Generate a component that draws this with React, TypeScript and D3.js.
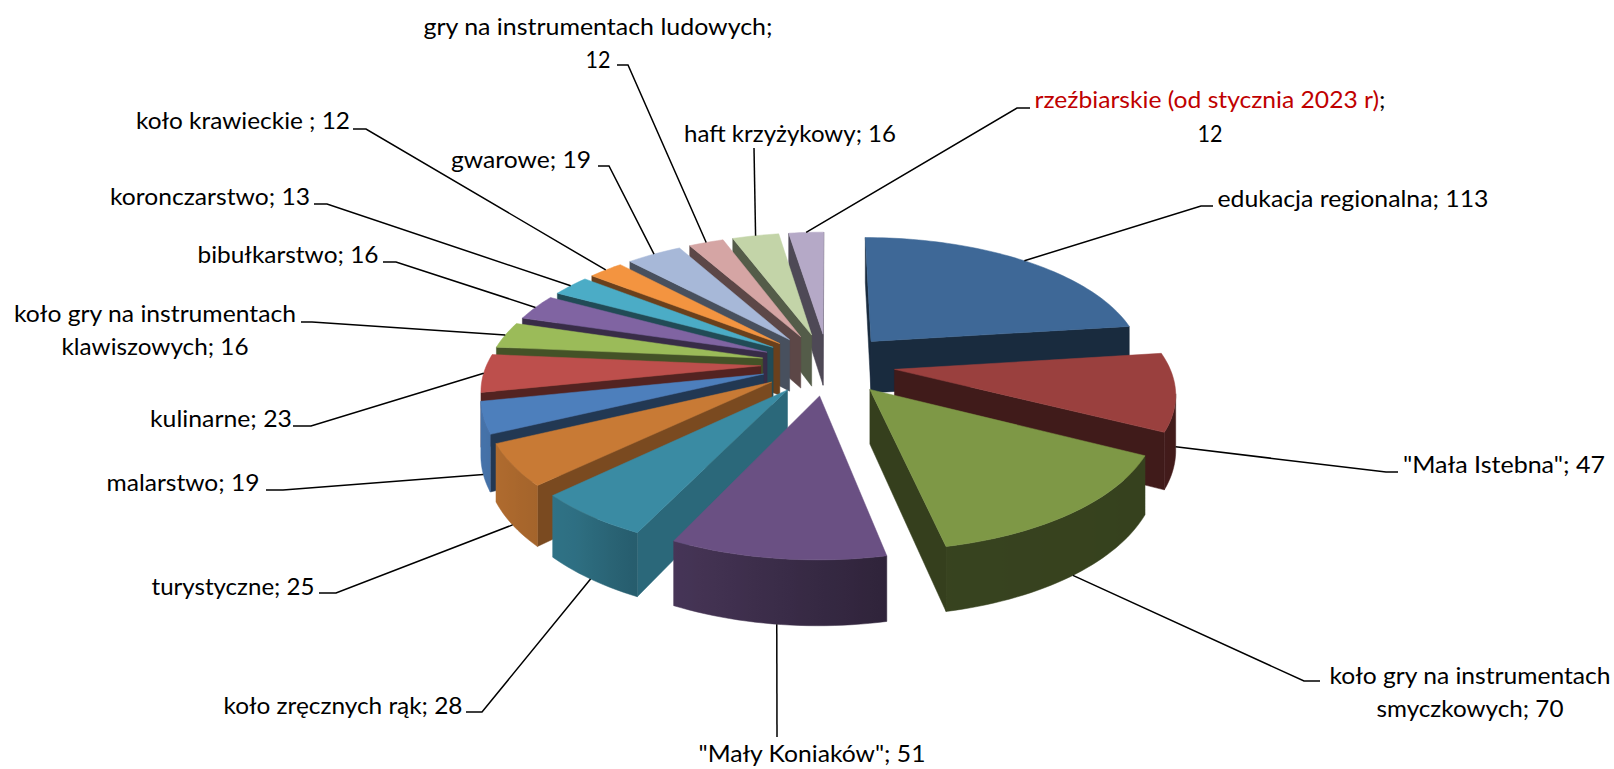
import React from "react";
import * as d3 from "d3";

const categories = [
  "edukacja regionalna", "\"Mała Istebna\"", "koło gry na instrumentach smyczkowych", "\"Mały Koniaków\"",
  "koło zręcznych rąk", "turystyczne", "malarstwo", "kulinarne", "koło gry na instrumentach klawiszowych",
  "bibułkarstwo", "koronczarstwo", "koło krawieckie ", "gwarowe", "gry na instrumentach ludowych",
  "haft krzyżykowy", "rzeźbiarskie (od stycznia 2023 r)",
];
const values = [113, 47, 70, 51, 28, 25, 19, 23, 16, 16, 13, 12, 19, 12, 16, 12];
const colors = [
  "#3E6897", "#9A403E", "#7E9846", "#6A5083", "#3A8BA3", "#C87A35", "#4D7FBC", "#BD4F4C",
  "#9BBB59", "#8064A2", "#4BACC6", "#F39440", "#A7B8D8", "#D5A5A4", "#C3D4A8", "#B5A9C7",
];

// label layout: text lines split point, text centre, line centres, leader start and elbow
type L = { cx: number; ys: number[]; w: number[]; brk?: number; a: [number, number]; b: [number, number] };
const layout: L[] = [
  { cx: 1353, ys: [199], w: [271], a: [1213, 206], b: [1201, 206] },
  { cx: 1504, ys: [465], w: [202], a: [1398, 472], b: [1386, 472] },
  { cx: 1470, ys: [676, 709], w: [281, 187], brk: 25, a: [1320, 681], b: [1304, 681] },
  { cx: 812, ys: [754], w: [227], a: [777, 737], b: [777, 737] },
  { cx: 343, ys: [706], w: [239], a: [466, 712], b: [482, 712] },
  { cx: 233, ys: [587], w: [163], a: [319, 593], b: [336, 593] },
  { cx: 183, ys: [483], w: [153], a: [266, 490], b: [283, 490] },
  { cx: 221, ys: [419], w: [142], a: [293, 426], b: [311, 426] },
  { cx: 155, ys: [314, 347], w: [282, 187], brk: 25, a: [301, 322], b: [312, 322] },
  { cx: 288, ys: [255], w: [181], a: [383, 262], b: [396, 262] },
  { cx: 210, ys: [197], w: [200], a: [314, 204], b: [327, 204] },
  { cx: 243, ys: [121], w: [214], a: [353, 129], b: [366, 129] },
  { cx: 521, ys: [160], w: [140], a: [598, 166], b: [609, 166] },
  { cx: 598, ys: [27, 60], w: [349, 25], brk: 30, a: [617, 65], b: [628, 65] },
  { cx: 790, ys: [134], w: [212], a: [754, 148], b: [754, 148] },
  { cx: 1210, ys: [100, 134], w: [351, 25], brk: 34, a: [1030, 108], b: [1017, 108] },
];

// projection parameters
const CX = 828, VY = -441, C = 805, F = 1740, H = 53, R = 274, E = 67;
const project = (X: number, Y: number, z = 0): [number, number] => {
  const s = F / (F - Y);
  return [CX + X * s, VY + (C + z) * s];
};
const polar = (r: number, t: number): [number, number] => [r * Math.sin(t), -r * Math.cos(t)];

const deg = (d: number) => (d * Math.PI) / 180;
const arcShade = d3.scaleLinear().domain([deg(0), deg(168), deg(205), deg(220), deg(250), deg(360)]).range([0.4, 0.44, 0.66, 0.8, 0.9, 0.9]).clamp(true);
const wallShade = d3.scaleLinear().domain([deg(0), deg(170), deg(205), deg(226), deg(244), deg(360)]).range([0.41, 0.42, 0.75, 0.61, 0.44, 0.43]).clamp(true);
const tint = (hex: string, f: number) => {
  const c = d3.rgb(hex);
  return d3.rgb(c.r * f, c.g * f, c.b * f).formatHex();
};
const line = d3.line();

const pie = d3.pie<number>().sort(null).value((d) => d);
const arcs = pie(values);

type Poly = { d: string; fill: string };
type Grad = { id: string; x1: number; x2: number; stops: { offset: number; color: string }[] };

function buildSlice(i: number) {
  const { startAngle: t0, endAngle: t1 } = arcs[i];
  const mid = (t0 + t1) / 2;
  const [ox, oy] = polar(E, mid);
  const step = deg(1.5);
  const n = Math.max(2, Math.ceil((t1 - t0) / step));
  const angs = d3.range(n + 1).map((k) => t0 + ((t1 - t0) * k) / n);
  const ring = angs.map((t): [number, number] => {
    const [x, y] = polar(R, t);
    return [ox + x, oy + y];
  });
  const apex: [number, number] = [ox, oy];
  const topPts = [apex, ...ring].map(([x, y]) => project(x, y));
  const polys: Poly[] = [];
  const wall = (a: [number, number], b: [number, number], fill: string) => {
    const a0 = project(a[0], a[1]), b0 = project(b[0], b[1]);
    if (b0[0] - a0[0] >= 0) return;
    const a1 = project(a[0], a[1], H), b1 = project(b[0], b[1], H);
    polys.push({ d: line([a0, b0, b1, a1])! + "Z", fill });
  };
  wall(apex, ring[0], tint(colors[i], wallShade(t0)));
  wall(ring[n], apex, tint(colors[i], wallShade(t0)));

  // outer curved wall: the part of the rim that moves leftwards on screen faces the viewer
  const vis = d3.range(n + 1).filter((k) => {
    const here = project(ring[k][0], ring[k][1])[0];
    const next = k < n ? project(ring[k + 1][0], ring[k + 1][1])[0] : Infinity;
    const prev = k > 0 ? project(ring[k - 1][0], ring[k - 1][1])[0] : -Infinity;
    return next < here || prev > here;
  });
  let grad: Grad | null = null;
  if (vis.length > 1) {
    const top = vis.map((k) => project(ring[k][0], ring[k][1]));
    const bot = vis.map((k) => project(ring[k][0], ring[k][1], H));
    const x1 = top[0][0], x2 = top[top.length - 1][0];
    grad = {
      id: `rim${i}`,
      x1,
      x2,
      stops: vis.map((k, j) => ({
        offset: (top[j][0] - x1) / (x2 - x1),
        color: tint(colors[i], arcShade(angs[k])),
      })),
    };
    polys.push({ d: line([...top, ...bot.reverse()])! + "Z", fill: `url(#rim${i})` });
  }
  polys.push({ d: line(topPts)! + "Z", fill: colors[i] });
  const [mx, my] = polar(R + E, mid);
  const end = project(mx, my, Math.cos(mid) < -0.1 ? H : 0);
  return { polys, grad, depth: my, end };
}

const slices = categories.map((_, i) => buildSlice(i));
const order = d3.range(slices.length).sort((a, b) => d3.ascending(slices[a].depth, slices[b].depth));

const fontFamily = "Lato";
const fontSize = 24;

function labelLines(i: number): string[] {
  const full = `${categories[i]}; ${values[i]}`;
  const brk = layout[i].brk;
  if (brk === undefined) return [full];
  return [full.slice(0, brk).trim(), full.slice(brk).trim()];
}

export default function App() {
  return (
    <svg width={1614} height={769} style={{ position: "absolute", left: 0, top: 0 }} fontFamily={fontFamily} fontSize={fontSize}>
      <rect width={1614} height={769} fill="#fff" />
      <defs>
        {slices.map((s) =>
          s.grad ? (
            <linearGradient key={s.grad.id} id={s.grad.id} gradientUnits="userSpaceOnUse" x1={s.grad.x1} x2={s.grad.x2} y1={0} y2={0}>
              {s.grad.stops.map((st, k) => (
                <stop key={k} offset={st.offset} stopColor={st.color} />
              ))}
            </linearGradient>
          ) : null
        )}
      </defs>
      {order.map((i) => (
        <g key={i}>
          {slices[i].polys.map((p, k) => (
            <path key={k} d={p.d} fill={p.fill} stroke={p.fill} strokeWidth={0.5} strokeLinejoin="round" />
          ))}
        </g>
      ))}
      {layout.map((l, i) => (
        <path key={i} d={line([l.a, l.b, slices[i].end])!} fill="none" stroke="#000" strokeWidth={1.5} />
      ))}
      {layout.map((l, i) =>
        labelLines(i).map((t, k) => {
          const red = i === 15 && k === 0;
          return (
            <text key={`${i}-${k}`} x={l.cx} y={l.ys[k]} dy="0.35em" textAnchor="middle" fill="#000" textLength={l.w[k]} lengthAdjust="spacingAndGlyphs">
              {red ? (
                <>
                  <tspan fill="#C00000">{t.slice(0, -1)}</tspan>
                  <tspan>;</tspan>
                </>
              ) : (
                t
              )}
            </text>
          );
        })
      )}
    </svg>
  );
}
